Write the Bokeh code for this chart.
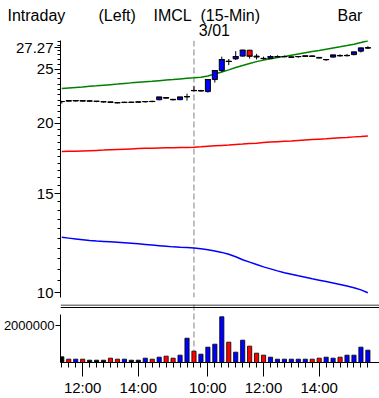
from bokeh.plotting import figure
from bokeh.models import Range1d, FixedTicker, Span, BasicTickFormatter
from bokeh.layouts import column
from bokeh.embed import file_html
from bokeh.resources import INLINE
from bokeh.core.properties import value

# ---------------- data ----------------
bar_times = ["11:15", "11:30", "11:45", "12:00", "12:15", "12:30", "12:45", "13:00",
             "13:15", "13:30", "13:45", "14:00", "14:15", "14:30", "14:45", "15:00",
             "15:15", "15:30", "15:45",
             "09:30", "09:45", "10:00", "10:15", "10:30", "10:45", "11:00", "11:15",
             "11:30", "11:45", "12:00", "12:15", "12:30", "12:45", "13:00", "13:15",
             "13:30", "13:45", "14:00", "14:15", "14:30", "14:45", "15:00", "15:15",
             "15:30", "15:45"]
day_label = "3/01"

opens = [21.88, 21.97, 21.93, 21.97, 21.93, 21.90, 21.86, 21.84, 21.79, 21.79,
         21.81, 21.84, 21.86, 21.90, 22.04, 22.24, 22.08, 22.05, 22.30,
         22.90, 22.85, 22.79, 23.94, 24.84, 25.82, 26.06, 26.36, 27.00, 26.36,
         26.12, 26.09, 26.28, 26.29, 26.24, 26.30, 26.33, 26.38, 26.22, 25.97,
         26.25, 26.43, 26.40, 26.52, 26.90, 27.25]
highs = [21.95, 22.00, 22.00, 21.99, 21.95, 21.90, 21.86, 21.84, 21.83, 21.86,
         21.86, 21.84, 21.88, 21.95, 22.30, 22.28, 22.08, 22.30, 22.60,
         23.30, 22.95, 24.00, 24.90, 26.30, 26.05, 26.90, 27.05, 27.05, 26.60,
         26.30, 26.45, 26.45, 26.42, 26.28, 26.31, 26.40, 26.40, 26.25, 25.99,
         26.50, 26.55, 26.58, 26.85, 27.30, 27.45]
lows = [21.70, 21.88, 21.88, 21.90, 21.88, 21.82, 21.79, 21.75, 21.72, 21.75,
        21.77, 21.77, 21.79, 21.82, 22.00, 22.15, 21.97, 22.00, 21.97,
        22.80, 22.80, 22.70, 23.65, 24.70, 25.40, 25.95, 26.30, 26.09, 26.00,
        25.98, 26.05, 26.20, 26.22, 26.22, 26.20, 26.30, 26.30, 26.12, 25.85,
        26.20, 26.30, 26.32, 26.45, 26.75, 27.15]
closes = [21.88, 21.93, 21.97, 21.93, 21.93, 21.90, 21.86, 21.82, 21.77, 21.81,
          21.81, 21.84, 21.88, 21.88, 22.28, 22.20, 22.05, 22.28, 22.33,
          22.88, 22.88, 23.94, 24.84, 25.98, 25.78, 26.30, 27.00, 26.36, 26.28,
          26.09, 26.30, 26.31, 26.31, 26.26, 26.31, 26.38, 26.33, 26.17, 25.99,
          26.47, 26.40, 26.43, 26.80, 27.24, 27.27]
volumes = [304000, 178000, 178000, 178000, 125000, 125000, 125000, 232000, 178000,
           178000, 125000, 125000, 232000, 178000, 285000, 339000, 232000, 392000,
           1300000, 606000, 446000, 820000, 980000, 2443000, 1087000, 553000,
           1194000, 874000, 499000, 392000, 285000, 178000, 178000, 178000, 178000,
           178000, 178000, 232000, 285000, 232000, 285000, 392000, 392000, 820000,
           660000]
ma_green = [23.07, 23.13, 23.18, 23.23, 23.29, 23.34, 23.40, 23.45, 23.50, 23.56,
            23.62, 23.67, 23.72, 23.77, 23.83, 23.89, 23.94, 24.00, 24.06, 24.11,
            24.17, 24.30, 24.49, 24.69, 24.91, 25.15, 25.37, 25.58, 25.77, 25.93,
            26.07, 26.20, 26.33, 26.46, 26.59, 26.72, 26.85, 26.98, 27.12, 27.25,
            27.38, 27.52, 27.68, 27.86, 28.06]
ma_red = [17.83, 17.84, 17.85, 17.87, 17.89, 17.91, 17.93, 17.96, 17.98, 18.00,
          18.02, 18.04, 18.06, 18.07, 18.09, 18.10, 18.11, 18.12, 18.13, 18.14,
          18.17, 18.21, 18.25, 18.28, 18.31, 18.35, 18.38, 18.42, 18.45, 18.49,
          18.53, 18.56, 18.59, 18.62, 18.66, 18.69, 18.72, 18.75, 18.78, 18.82,
          18.86, 18.89, 18.93, 18.96, 19.00]
ma_blue = [12.54, 12.50, 12.46, 12.42, 12.38, 12.35, 12.33, 12.31, 12.29, 12.27,
           12.24, 12.21, 12.18, 12.15, 12.12, 12.09, 12.06, 12.04, 12.03, 12.01,
           11.97, 11.92, 11.86, 11.79, 11.70, 11.58, 11.44, 11.33, 11.22, 11.11,
           11.02, 10.93, 10.85, 10.78, 10.71, 10.65, 10.58, 10.52, 10.46, 10.40,
           10.34, 10.27, 10.20, 10.11, 9.99]
price_ticks = [10, 15, 20, 25, 27.27]
price_tick_labels = ["10", "15", "20", "25", "27.27"]
time_tick_labels = ["12:00", "14:00", "10:00"]
volume_ticks = [2000000]
volume_tick_labels = ["2000000"]
title_words = ["Intraday", "(Left)", "IMCL", "(15-Min)", "Bar"]

# ---------------- layout constants ----------------
FONT = "Liberation Sans, Arial, sans-serif"
W = 379
LEFT = 58
HEAD_H = 40
X0, X1 = -0.186, 45.67
PXU = (W - LEFT) / (X1 - X0)
VOL_FRAME_H = 58          # volume frame incl. the double rule at its top
VOL_AXIS_MAX = 2.727e6    # top of the visible volume axis
VOL_TOP = VOL_AXIS_MAX * VOL_FRAME_H / 51.0
VOL_PX = VOL_TOP / VOL_FRAME_H

idx = list(range(len(bar_times)))
day_start = bar_times.index("09:30")
major_x = [i for i, t in enumerate(bar_times) if t in time_tick_labels]
tops = [max(o, c) for o, c in zip(opens, closes)]
bots = [min(o, c) for o, c in zip(opens, closes)]
cols = ["#0000ff" if c > o else ("#ff0000" if c < o else "#000000")
        for o, c in zip(opens, closes)]
minor_price = [9.5 + 0.5 * k for k in range(38)]

xr = Range1d(X0, X1)

# ---------------- header (titles) ----------------
ph = figure(width=W, height=HEAD_H, x_range=Range1d(0, W), y_range=Range1d(HEAD_H, 0),
            output_backend="svg", toolbar_location=None, title=None,
            x_axis_location=None, y_axis_location=None, min_border=0,
            min_border_left=0, min_border_right=0, min_border_top=0,
            min_border_bottom=0, frame_align=False)
ph.grid.visible = False
ph.outline_line_color = None
title_px = [7, 98, 153, 200, 337]
ph.text(x=title_px, y=[15] * len(title_words), text=title_words,
        text_font=value(FONT), text_font_size="16px", text_color="black",
        text_baseline="alphabetic", text_align="left")
day_px = LEFT + (day_start - X0) * PXU + 6
ph.text(x=[day_px], y=[30], text=[day_label],
        text_font=value(FONT), text_font_size="16px", text_color="black",
        text_baseline="alphabetic", text_align="left")

# ---------------- price panel ----------------
p1 = figure(width=W, height=264, y_axis_type="log", x_range=xr,
            y_range=Range1d(9.80, 28.1), output_backend="svg",
            toolbar_location=None, x_axis_location=None, title=None,
            min_border_left=LEFT, min_border_right=0, min_border_top=0,
            min_border_bottom=7)
p1.grid.visible = False
p1.outline_line_color = None

ya = p1.yaxis[0]
ya.ticker = FixedTicker(ticks=price_ticks, minor_ticks=minor_price)
ya.formatter = BasicTickFormatter()
ya.major_label_overrides = dict(zip(price_ticks, price_tick_labels))
ya.axis_line_color = "black"
ya.major_tick_line_color = "black"
ya.minor_tick_line_color = "black"
ya.major_tick_out = 6
ya.major_tick_in = 0
ya.minor_tick_out = 3
ya.minor_tick_in = 0
ya.major_label_standoff = 1
ya.major_label_text_font = FONT
ya.major_label_text_font_size = "15px"
ya.major_label_text_color = "black"

p1.add_layout(Span(location=day_start, dimension="height", line_color="#808080",
                   line_dash="6 3", line_width=1, level="underlay"))

p1.line(idx, ma_green, line_color="#008000", line_width=1.5)
p1.line(idx, ma_red, line_color="#ff0000", line_width=1.5)
p1.line(idx, ma_blue, line_color="#0000ff", line_width=1.5)

p1.segment(x0=idx, y0=highs, x1=idx, y1=lows, line_color="black", line_width=1)
p1.vbar(x=idx, width=0.72, top=tops, bottom=bots, fill_color=cols,
        line_color="black", line_width=1)
p1.scatter(x=idx, y=closes, marker="dash", size=6, line_color="black", line_width=1)

# ---------------- volume panel (double rule drawn at top of its frame) ----------------
p2 = figure(width=W, height=94, x_range=xr, y_range=Range1d(0, VOL_TOP),
            output_backend="svg", toolbar_location=None, title=None,
            min_border_left=LEFT, min_border_right=0, min_border_top=0,
            min_border_bottom=36)
p2.grid.visible = False
p2.outline_line_color = None

for k in (0.5, 3.0):
    p2.add_layout(Span(location=VOL_TOP - k * VOL_PX, dimension="width",
                       line_color="black", line_width=1))

p2.add_layout(Span(location=day_start, dimension="height", line_color="#808080",
                   line_dash="6 3", line_width=1, level="underlay"))
p2.vbar(x=idx, width=0.6, top=volumes, bottom=0, fill_color=cols,
        line_color="black", line_width=0.8)

xa = p2.xaxis[0]
xa.ticker = FixedTicker(ticks=major_x, minor_ticks=idx)
xa.major_label_overrides = {i: bar_times[i] for i in major_x}
xa.axis_line_color = "black"
xa.major_tick_line_color = "black"
xa.minor_tick_line_color = "black"
xa.major_tick_out = 14
xa.major_tick_in = 0
xa.minor_tick_out = 5
xa.minor_tick_in = 0
xa.major_label_standoff = 2
xa.major_label_text_font = FONT
xa.major_label_text_font_size = "15px"
xa.major_label_text_color = "black"

va = p2.yaxis[0]
va.bounds = (0, VOL_AXIS_MAX * 0.95)
va.ticker = FixedTicker(ticks=volume_ticks, minor_ticks=[])
va.major_label_overrides = dict(zip(volume_ticks, volume_tick_labels))
va.axis_line_color = "black"
va.major_tick_line_color = "black"
va.major_tick_out = 5
va.major_tick_in = 0
va.minor_tick_out = 0
va.minor_tick_in = 0
va.major_label_standoff = 1
va.major_label_text_font = FONT
va.major_label_text_font_size = "13px"
va.major_label_text_color = "black"

layout = column(ph, p1, p2, spacing=0)
open("out.html", "w").write(file_html(layout, INLINE))
